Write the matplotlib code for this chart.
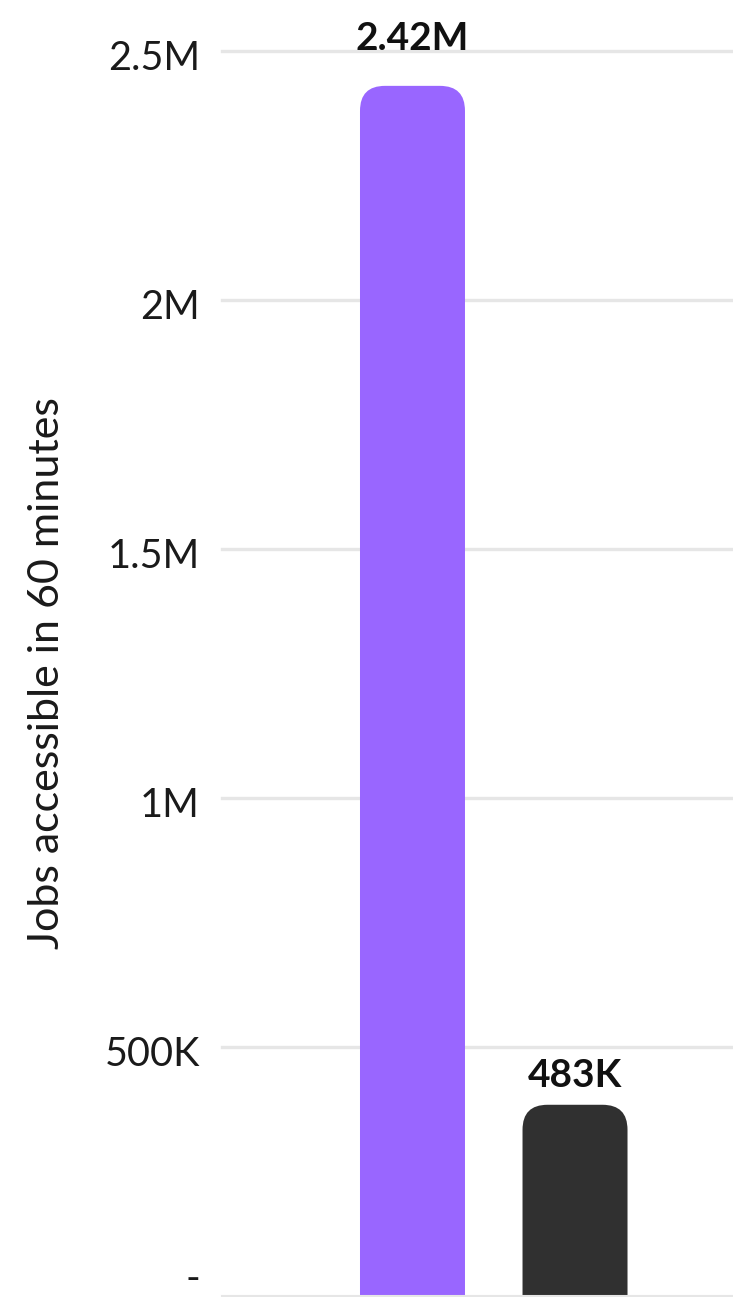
import matplotlib.pyplot as plt
from matplotlib.patches import FancyBboxPatch
from matplotlib.transforms import ScaledTranslation

plt.rcParams['font.family'] = ['Lato', 'DejaVu Sans']

# data
bar_names = ['Group A', 'Group B']
jobs = [2430000, 384000]
value_labels = ['2.42M', '483K']
bar_colors = ['#9966ff', '#303030']
y_ticks = [0, 500000, 1000000, 1500000, 2000000, 2500000]
y_tick_labels = ['-', '500K', '1M', '1.5M', '2M', '2.5M']

W, H = 733, 1297
fig = plt.figure(figsize=(W / 100, H / 100), dpi=100)
ax = fig.add_axes([222 / W, 1 / H, 511 / W, 1245 / H])
ax.set_xlim(-1.172, 1.972)
ax.set_ylim(0, 2500000)

# px per data unit, used to keep corners round
x_px = ax.transData.transform((1, 0))[0] - ax.transData.transform((0, 0))[0]
y_px = ax.transData.transform((0, 1e6))[1] - ax.transData.transform((0, 0))[1]
aspect = (1e6 / y_px) / (1 / x_px)
r = 25 / x_px
bw = 0.646

for i, v in enumerate(jobs):
    y0 = -r * aspect
    p = FancyBboxPatch((i - bw / 2, y0), bw, v - y0,
                       boxstyle='round,pad=0,rounding_size=%f' % r,
                       mutation_aspect=aspect, fc=bar_colors[i], ec='none', zorder=2)
    ax.add_patch(p)

offsets = [26, 13]
for i, (v, lab) in enumerate(zip(jobs, value_labels)):
    ax.annotate(lab, (i, v), xytext=(0, offsets[i]), textcoords='offset points',
                ha='center', va='baseline', fontsize=28, fontweight='bold',
                color='#111111', annotation_clip=False)

for t in y_ticks[1:]:
    ax.axhline(t, color='#e6e6e6', lw=2.4, zorder=0, clip_on=False)

ax.set_yticks(y_ticks)
ax.set_yticklabels(y_tick_labels)
ax.set_xticks([])
ax.tick_params(axis='y', length=0, pad=16, labelsize=28.5, labelcolor='#1a1a1a')
labs = ax.get_yticklabels()
for k, lab in enumerate(labs):
    dy = 14.5 if k == 0 else -3
    lab.set_transform(lab.get_transform() + ScaledTranslation(0, dy / 72, fig.dpi_scale_trans))

for s in ['top', 'right', 'left']:
    ax.spines[s].set_visible(False)
ax.spines['bottom'].set_color('#e6e6e6')
ax.spines['bottom'].set_linewidth(1.5)

ax.set_ylabel('Jobs accessible in 60 minutes', fontsize=31, color='#1a1a1a', labelpad=28)

fig.savefig('out.png', dpi=100)
